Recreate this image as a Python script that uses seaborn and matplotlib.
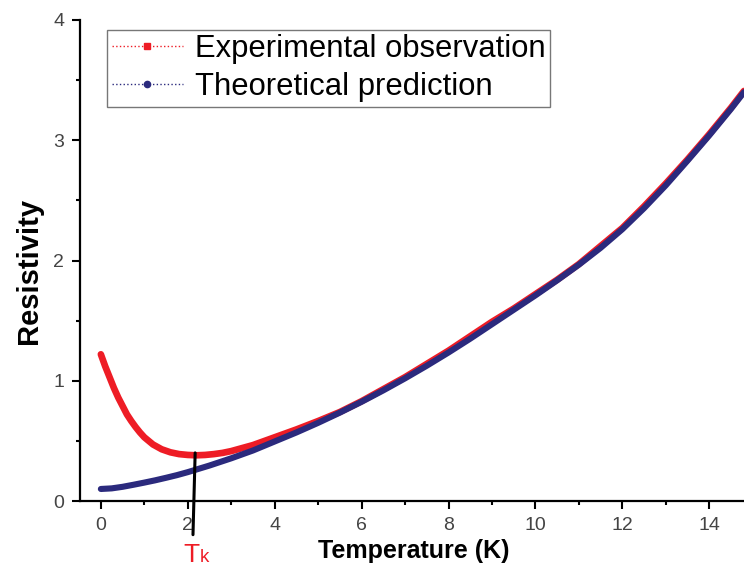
import matplotlib
matplotlib.use("Agg")
import matplotlib.pyplot as plt
from matplotlib.lines import Line2D
from matplotlib.ticker import MultipleLocator
import pandas as pd
import seaborn as sns

# Experimental resistivity vs temperature (Kondo upturn below T_k)
temp_exp = [0.0, 0.1, 0.2, 0.3, 0.4, 0.5, 0.6, 0.7, 0.8, 0.9, 1.0, 1.2, 1.4,
            1.6, 1.8, 2.0, 2.2, 2.4, 2.6, 2.8, 3.0, 3.5, 4.0, 4.5, 5.0, 5.5,
            6.0, 6.5, 7.0, 7.5, 8.0, 8.5, 9.0, 9.5, 10.0, 10.5, 11.0, 11.5,
            12.0, 12.5, 13.0, 13.5, 14.0, 14.5, 14.8]
rho_exp = [1.22, 1.12, 1.03, 0.94, 0.86, 0.79, 0.72, 0.665, 0.615, 0.57, 0.53,
           0.47, 0.43, 0.405, 0.39, 0.383, 0.38, 0.383, 0.39, 0.40, 0.415,
           0.465, 0.53, 0.595, 0.665, 0.74, 0.83, 0.93, 1.03, 1.14, 1.25,
           1.37, 1.49, 1.60, 1.72, 1.84, 1.97, 2.12, 2.27, 2.45, 2.64, 2.84,
           3.05, 3.27, 3.41]

# Theoretical prediction
temp_th = [0.0, 0.25, 0.5, 0.75, 1.0, 1.25, 1.5, 1.75, 2.0, 2.5, 3.0, 3.5,
           4.0, 4.5, 5.0, 5.5, 6.0, 6.5, 7.0, 7.5, 8.0, 8.5, 9.0, 9.5, 10.0,
           10.5, 11.0, 11.5, 12.0, 12.5, 13.0, 13.5, 14.0, 14.5, 14.8]
rho_th = [0.10, 0.105, 0.118, 0.135, 0.153, 0.172, 0.193, 0.215, 0.24, 0.295,
          0.355, 0.42, 0.495, 0.57, 0.65, 0.735, 0.825, 0.92, 1.02, 1.125,
          1.235, 1.35, 1.47, 1.59, 1.71, 1.835, 1.965, 2.105, 2.26, 2.435,
          2.625, 2.83, 3.04, 3.26, 3.40]

# Kondo temperature marker
t_kondo = 2.17
rho_at_tk = 0.40

legend_labels = ["Experimental observation", "Theoretical prediction"]
red = "#EE1C25"
navy = "#2B2A7D"

sns.set_theme(style="ticks")
plt.rcParams["font.family"] = ["Liberation Sans", "DejaVu Sans"]
plt.rcParams["text.color"] = "black"
plt.rcParams["axes.labelcolor"] = "black"

fig = plt.figure(figsize=(7.44, 5.68), dpi=100)
ax = fig.add_axes([80 / 744, 1 - 501 / 568, 1 - 80 / 744, (501 - 20) / 568])

df_exp = pd.DataFrame({"T": temp_exp, "rho": rho_exp})
df_th = pd.DataFrame({"T": temp_th, "rho": rho_th})
sns.lineplot(data=df_exp, x="T", y="rho", ax=ax, color=red, linewidth=4.8,
             legend=False, solid_capstyle="round", solid_joinstyle="round",
             zorder=3)
sns.lineplot(data=df_th, x="T", y="rho", ax=ax, color=navy, linewidth=4.4,
             legend=False, solid_capstyle="round", solid_joinstyle="round",
             zorder=4)

# T_k indicator dropping below the axis
ax.add_line(Line2D([t_kondo, t_kondo - 0.05], [rho_at_tk, -0.28],
                   color="black", linewidth=2.2, clip_on=False, zorder=6))
ax.text(1.89, -0.507, "T", color=red, fontsize=19, ha="left", va="baseline",
        clip_on=False)
ax.text(2.28, -0.507, "k", color=red, fontsize=13.5, ha="left",
        va="baseline", clip_on=False)

ax.set_xlim(-0.48, 14.8)
ax.set_ylim(0, 4)
ax.xaxis.set_major_locator(MultipleLocator(2))
ax.xaxis.set_minor_locator(MultipleLocator(1))
ax.yaxis.set_major_locator(MultipleLocator(1))
ax.yaxis.set_minor_locator(MultipleLocator(0.5))

for side in ("top", "right"):
    ax.spines[side].set_visible(False)
for side in ("left", "bottom"):
    ax.spines[side].set_linewidth(1.6)
    ax.spines[side].set_color("black")

ax.tick_params(which="major", direction="out", length=5.5, width=1.5,
               color="black", labelsize=14, labelcolor="#444444", pad=6)
ax.tick_params(which="minor", direction="out", length=3, width=1.5,
               color="black")

ax.set_xlabel("Temperature (K)", fontsize=18, fontweight="bold",
              color="black")
ax.xaxis.set_label_coords(0.503, -0.080)
ax.set_ylabel("Resistivity", fontsize=21, fontweight="bold", color="black")
ax.yaxis.set_label_coords(-0.056, 0.478)

handles = [
    Line2D([], [], color=red, linestyle=":", linewidth=1.0, marker="s",
           markersize=4.5, markerfacecolor=red, markeredgecolor=red),
    Line2D([], [], color=navy, linestyle=":", linewidth=1.0, marker="o",
           markersize=4.5, markerfacecolor=navy, markeredgecolor=navy),
]
leg = ax.legend(handles, legend_labels, loc="upper left",
                bbox_to_anchor=(27 / 664, 1 - 9.5 / 481), fontsize=22.3,
                frameon=True, fancybox=False, framealpha=1, edgecolor="#777777",
                handlelength=2.3, handletextpad=0.39, borderpad=0.15,
                labelspacing=0.25, borderaxespad=0, markerscale=1,
                labelcolor="black")
leg.get_frame().set_linewidth(1.0)

fig.savefig("out.png", dpi=100)
